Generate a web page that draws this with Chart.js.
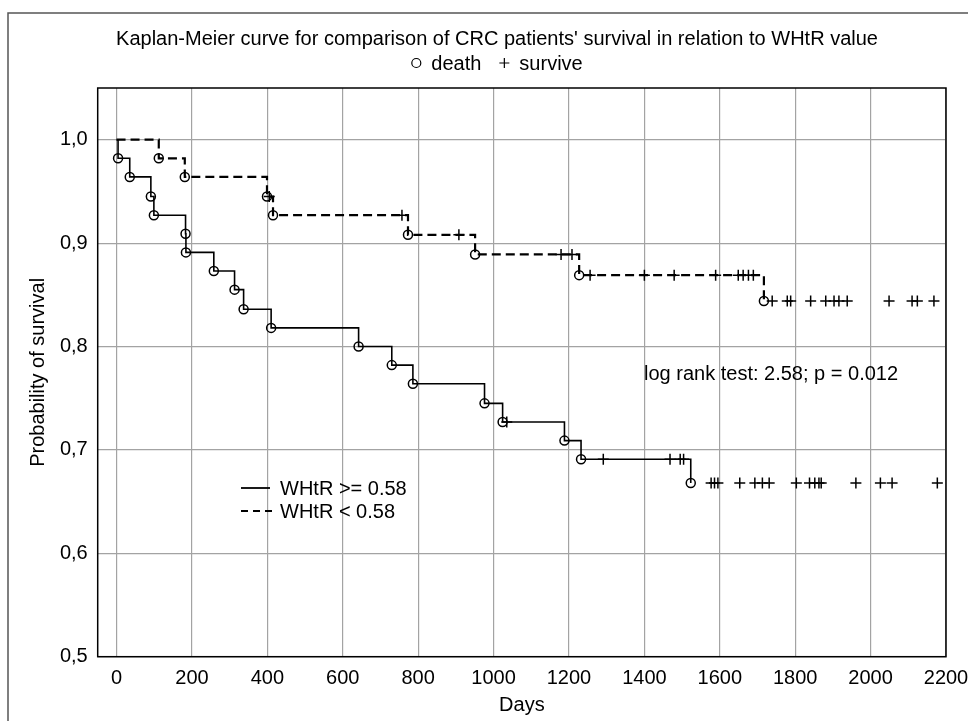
<!DOCTYPE html>
<html>
<head>
<meta charset="utf-8">
<script src="https://cdn.jsdelivr.net/npm/chart.js@4.4.1/dist/chart.umd.min.js"></script>
<style>
  html, body { margin: 0; padding: 0; background: #fff; }
  canvas { display: block; }
</style>
</head>
<body>
<canvas id="km" width="968" height="721"></canvas>
<script>
// axis ticks
var xTicks = [0, 200, 400, 600, 800, 1000, 1200, 1400, 1600, 1800, 2000, 2200];
var yTicks = [0.5, 0.6, 0.7, 0.8, 0.9, 1.0];

// WHtR >= 0.58 : deaths (circles) and censored (+)
var highEventDays = [4, 35, 91, 99, 183, 184, 258, 313, 337, 410, 642, 730, 786, 976, 1024, 1188, 1232, 1523];
var highEventSurv = [0.982, 0.964, 0.945, 0.927, 0.909, 0.891, 0.873, 0.855, 0.836, 0.818, 0.800, 0.782, 0.764, 0.745, 0.727, 0.709, 0.691, 0.668];
var highCensDays = [1035, 1291, 1468, 1495, 1504, 1577, 1586, 1595, 1653, 1693, 1713, 1731, 1803, 1838, 1852, 1863, 1869, 1961, 2026, 2057, 2177];
var highCensSurv = [0.727, 0.691, 0.691, 0.691, 0.691, 0.668, 0.668, 0.668, 0.668, 0.668, 0.668, 0.668, 0.668, 0.668, 0.668, 0.668, 0.668, 0.668, 0.668, 0.668, 0.668];

// WHtR < 0.58
var lowEventDays = [112, 181, 399, 415, 773, 951, 1227, 1717];
var lowEventSurv = [0.982, 0.964, 0.945, 0.927, 0.908, 0.889, 0.869, 0.844];
var lowCensDays = [405, 757, 908, 1179, 1208, 1256, 1400, 1479, 1589, 1649, 1662, 1676, 1689, 1739, 1779, 1788, 1841, 1881, 1903, 1916, 1938, 2049, 2110, 2124, 2168];
var lowCensSurv = [0.945, 0.927, 0.908, 0.889, 0.889, 0.869, 0.869, 0.869, 0.869, 0.869, 0.869, 0.869, 0.869, 0.844, 0.844, 0.844, 0.844, 0.844, 0.844, 0.844, 0.844, 0.844, 0.844, 0.844, 0.844];

var FONT = "'Liberation Sans', Arial, sans-serif";

function pts(xs, ys) {
    var out = [];
    for (var i = 0; i < xs.length; i++) out.push({ x: xs[i], y: ys[i] });
    return out;
}
function steps(xs, ys) {
    // curve starts at day 0 with survival 1
    return [{ x: 0, y: 1 }].concat(pts(xs, ys));
}

var lineBase = { type: 'line', borderColor: '#000', pointRadius: 0, fill: false, stepped: 'before', tension: 0 };
var dotBase = { type: 'scatter', showLine: false, borderColor: '#000', backgroundColor: 'rgba(0,0,0,0)' };

var decor = {
    id: 'decor',
    beforeDraw: function (chart) {
        var ctx = chart.ctx;
        ctx.save();
        ctx.fillStyle = '#fff';
        ctx.fillRect(0, 0, chart.width, chart.height);
        // outer figure frame
        ctx.strokeStyle = '#555';
        ctx.lineWidth = 1.5;
        ctx.strokeRect(8, 13, chart.width + 20, chart.height + 20);
        ctx.restore();
    },
    afterDraw: function (chart) {
        var ctx = chart.ctx;
        var a = chart.chartArea;
        ctx.save();
        ctx.strokeStyle = '#000';
        ctx.lineWidth = 1.5;
        ctx.strokeRect(a.left, a.top, a.right - a.left, a.bottom - a.top);

        ctx.fillStyle = '#000';
        ctx.textBaseline = 'alphabetic';
        // title
        ctx.font = '20px ' + FONT;
        ctx.textAlign = 'center';
        ctx.fillText("Kaplan-Meier curve for comparison of CRC patients' survival in relation to WHtR value", 497, 45);

        // subtitle: o death  + survive
        ctx.textAlign = 'left';
        var w1 = ctx.measureText('death').width;
        var w2 = ctx.measureText('survive').width;
        var total = 12 + 8 + w1 + 18 + 12 + 8 + w2;
        var sx = 497 - total / 2;
        ctx.lineWidth = 1.2;
        ctx.beginPath();
        ctx.arc(sx + 5, 63, 4.5, 0, Math.PI * 2);
        ctx.stroke();
        ctx.fillText('death', sx + 20, 70);
        var px = sx + 20 + w1 + 18;
        ctx.beginPath();
        ctx.moveTo(px, 63); ctx.lineTo(px + 10, 63);
        ctx.moveTo(px + 5, 58); ctx.lineTo(px + 5, 68);
        ctx.stroke();
        ctx.fillText('survive', px + 20, 70);

        // legend
        ctx.lineWidth = 1.8;
        ctx.beginPath();
        ctx.moveTo(241, 488); ctx.lineTo(270, 488);
        ctx.stroke();
        ctx.setLineDash([7, 5]);
        ctx.lineWidth = 2.2;
        ctx.beginPath();
        ctx.moveTo(241, 511); ctx.lineTo(272, 511);
        ctx.stroke();
        ctx.setLineDash([]);
        ctx.fillText('WHtR >= 0.58', 280, 495);
        ctx.fillText('WHtR < 0.58', 280, 518);

        ctx.fillText('log rank test: 2.58; p = 0.012', 644, 380);
        ctx.restore();
    }
};

new Chart(document.getElementById('km'), {
    data: {
        datasets: [
            Object.assign({}, lineBase, { label: 'WHtR >= 0.58', data: steps(highEventDays, highEventSurv), borderWidth: 1.6 }),
            Object.assign({}, lineBase, { label: 'WHtR < 0.58', data: steps(lowEventDays, lowEventSurv), borderWidth: 2.2, borderDash: [9, 5] }),
            Object.assign({}, dotBase, { label: 'death', data: pts(highEventDays, highEventSurv), pointStyle: 'circle', pointRadius: 4.5, borderWidth: 1.5 }),
            Object.assign({}, dotBase, { label: 'death', data: pts(lowEventDays, lowEventSurv), pointStyle: 'circle', pointRadius: 4.5, borderWidth: 1.5 }),
            Object.assign({}, dotBase, { label: 'survive', data: pts(highCensDays, highCensSurv), pointStyle: 'cross', pointRadius: 5.5, borderWidth: 1.5 }),
            Object.assign({}, dotBase, { label: 'survive', data: pts(lowCensDays, lowCensSurv), pointStyle: 'cross', pointRadius: 5.5, borderWidth: 1.5 })
        ]
    },
    options: {
        responsive: false,
        animation: false,
        layout: { padding: { top: 88, right: 22, left: 0, bottom: 0 } },
        plugins: {
            legend: { display: false },
            title: { display: false },
            tooltip: { enabled: false }
        },
        scales: {
            x: {
                type: 'linear',
                min: -50,
                max: 2200,
                afterBuildTicks: function (s) { s.ticks = xTicks.map(function (v) { return { value: v }; }); },
                afterFit: function (s) { s.height = 64.3; s.paddingLeft = 0; s.paddingRight = 0; },
                grid: { color: '#a3a3a3', lineWidth: 1.2, drawTicks: false },
                border: { display: false },
                ticks: {
                    color: '#000', padding: 10, maxRotation: 0, font: { family: FONT, size: 20 },
                    callback: function (v) { return String(v); }
                },
                title: { display: true, text: 'Days', color: '#000', font: { family: FONT, size: 20 }, padding: { top: 0, bottom: 4 } }
            },
            y: {
                type: 'linear',
                min: 0.5,
                max: 1.05,
                afterBuildTicks: function (s) { s.ticks = yTicks.map(function (v) { return { value: v }; }); },
                afterFit: function (s) { s.width = 97.7; s.paddingTop = 0; s.paddingBottom = 0; },
                grid: { color: '#a3a3a3', lineWidth: 1.2, drawTicks: false },
                border: { display: false },
                ticks: {
                    color: '#000', padding: 10, font: { family: FONT, size: 20 },
                    callback: function (v) { return v.toFixed(1).replace('.', ','); }
                },
                title: { display: true, text: 'Probability of survival', color: '#000', font: { family: FONT, size: 20 }, padding: { top: 26, bottom: 0 } }
            }
        }
    },
    plugins: [decor]
});
</script>
</body>
</html>
